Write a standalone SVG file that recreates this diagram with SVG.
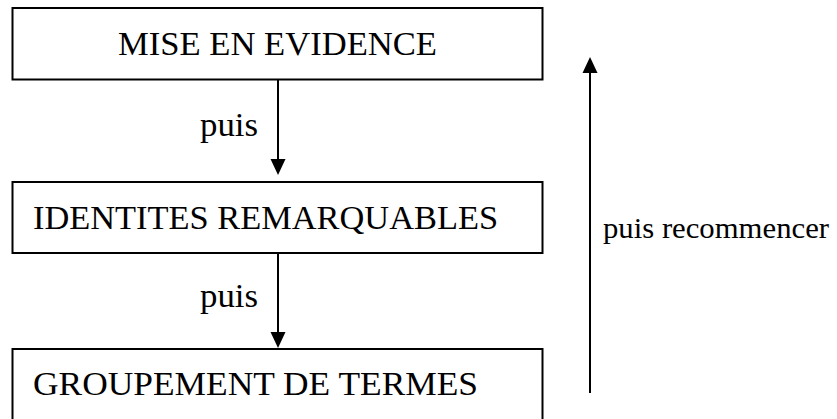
<svg xmlns="http://www.w3.org/2000/svg" width="837" height="419" viewBox="0 0 837 419">
  <style>
    .box { fill: #ffffff; stroke: #000000; stroke-width: 2; }
    .t { font-family: "Liberation Serif", "Times New Roman", serif; font-size: 33px; fill: #000000; }
    .side { font-size: 30px; }
    .conn { stroke: #000000; stroke-width: 2; fill: none; marker-end: url(#arrow); }
  </style>
  <defs>
    <marker id="arrow" markerUnits="userSpaceOnUse" markerWidth="18" markerHeight="18" viewBox="0 0 18 18" refX="13" refY="9" orient="auto">
      <path d="M1,1.5 L17,9 L1,16.5 z" fill="#000000"/>
    </marker>
  </defs>
  <rect width="837" height="419" fill="#ffffff"/>
  <g id="node-mise">
    <rect class="box" x="12.5" y="8" width="530" height="71.5"/>
    <text class="t" x="277.5" y="55" text-anchor="middle" textLength="319" lengthAdjust="spacingAndGlyphs">MISE EN EVIDENCE</text>
  </g>
  <g id="node-identites">
    <rect class="box" x="12.5" y="182" width="530" height="71"/>
    <text class="t" x="33" y="229" textLength="465" lengthAdjust="spacingAndGlyphs">IDENTITES REMARQUABLES</text>
  </g>
  <g id="node-groupement">
    <rect class="box" x="12.5" y="349" width="530" height="80"/>
    <text class="t" x="33" y="395" textLength="445" lengthAdjust="spacingAndGlyphs">GROUPEMENT DE TERMES</text>
  </g>
  <g id="connectors">
    <line class="conn" x1="278" y1="79.5" x2="278" y2="171"/>
    <text class="t" x="200" y="136" textLength="58" lengthAdjust="spacingAndGlyphs">puis</text>
    <line class="conn" x1="278" y1="253" x2="278" y2="344"/>
    <text class="t" x="200" y="307" textLength="58" lengthAdjust="spacingAndGlyphs">puis</text>
    <line class="conn" x1="590" y1="393" x2="590" y2="61"/>
    <text class="t side" x="603" y="238" textLength="226" lengthAdjust="spacingAndGlyphs">puis recommencer</text>
  </g>
</svg>
